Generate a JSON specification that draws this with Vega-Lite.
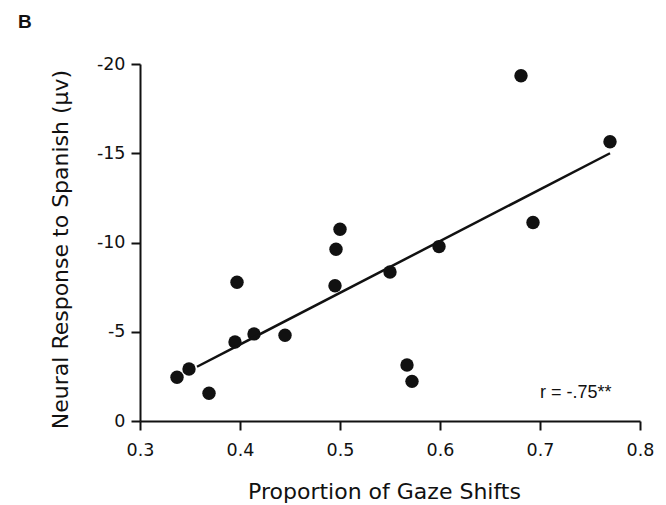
{
  "$schema": "https://vega.github.io/schema/vega-lite/v6.json",
  "autosize": {"type": "none"},
  "padding": {"left": 140, "top": 64, "right": 26, "bottom": 84},
  "width": 500,
  "height": 357,
  "background": "white",
  "title": {
    "text": "B",
    "anchor": "start",
    "frame": "group",
    "dx": -122,
    "offset": 8,
    "baseline": "alphabetic",
    "font": "Liberation Sans",
    "fontSize": 19,
    "fontWeight": "bold",
    "color": "#111"
  },
  "config": {
    "view": {"stroke": null},
    "axis": {
      "grid": false,
      "domainColor": "#111",
      "domainWidth": 2,
      "tickColor": "#111",
      "tickWidth": 2,
      "tickSize": 9,
      "labelColor": "#111",
      "titleColor": "#111",
      "labelFont": "DejaVu Sans",
      "titleFont": "DejaVu Sans",
      "labelFontSize": 17.5,
      "titleFontSize": 22,
      "titleFontWeight": "normal",
      "labelFlush": false,
      "labelOverlap": false
    }
  },
  "layer": [
    {
      "data": {
        "values": [
          {"gaze": 0.337, "response": -2.45},
          {"gaze": 0.349, "response": -2.91},
          {"gaze": 0.369, "response": -1.55},
          {"gaze": 0.397, "response": -7.77},
          {"gaze": 0.395, "response": -4.43},
          {"gaze": 0.414, "response": -4.88},
          {"gaze": 0.445, "response": -4.80},
          {"gaze": 0.495, "response": -7.58},
          {"gaze": 0.496, "response": -9.62},
          {"gaze": 0.500, "response": -10.74},
          {"gaze": 0.550, "response": -8.35},
          {"gaze": 0.599, "response": -9.77},
          {"gaze": 0.567, "response": -3.14},
          {"gaze": 0.572, "response": -2.22},
          {"gaze": 0.681, "response": -19.34},
          {"gaze": 0.770, "response": -15.64},
          {"gaze": 0.693, "response": -11.12}
        ]
      },
      "mark": {"type": "circle", "size": 180, "color": "#111", "opacity": 1},
      "encoding": {
        "x": {
          "field": "gaze",
          "type": "quantitative",
          "scale": {"domain": [0.3, 0.8], "nice": false, "zero": false},
          "axis": {
            "title": "Proportion of Gaze Shifts",
            "values": [0.3, 0.4, 0.5, 0.6, 0.7, 0.8],
            "format": ".1f",
            "labelPadding": 11,
            "titlePadding": 23,
            "titleX": 244
          }
        },
        "y": {
          "field": "response",
          "type": "quantitative",
          "scale": {"domain": [0, -20], "nice": false, "zero": false},
          "axis": {
            "title": "Neural Response to Spanish (μv)",
            "values": [0, -5, -10, -15, -20],
            "labelExpr": "datum.value == 0 ? '0' : '-' + abs(datum.value)",
            "labelPadding": 6,
            "titlePadding": 24,
            "titleY": 185
          }
        }
      }
    },
    {
      "data": {
        "values": [
          {"gaze": 0.357, "response": -3.04},
          {"gaze": 0.770, "response": -15.0}
        ]
      },
      "mark": {"type": "line", "color": "#111", "strokeWidth": 2.5},
      "encoding": {
        "x": {"field": "gaze", "type": "quantitative"},
        "y": {"field": "response", "type": "quantitative"}
      }
    },
    {
      "data": {"values": [{"gaze": 0.7, "response": -1.27, "label": "r = -.75**"}]},
      "mark": {
        "type": "text",
        "align": "left",
        "baseline": "alphabetic",
        "font": "Liberation Sans",
        "fontSize": 18,
        "color": "#111"
      },
      "encoding": {
        "x": {"field": "gaze", "type": "quantitative"},
        "y": {"field": "response", "type": "quantitative"},
        "text": {"field": "label"}
      }
    }
  ]
}
